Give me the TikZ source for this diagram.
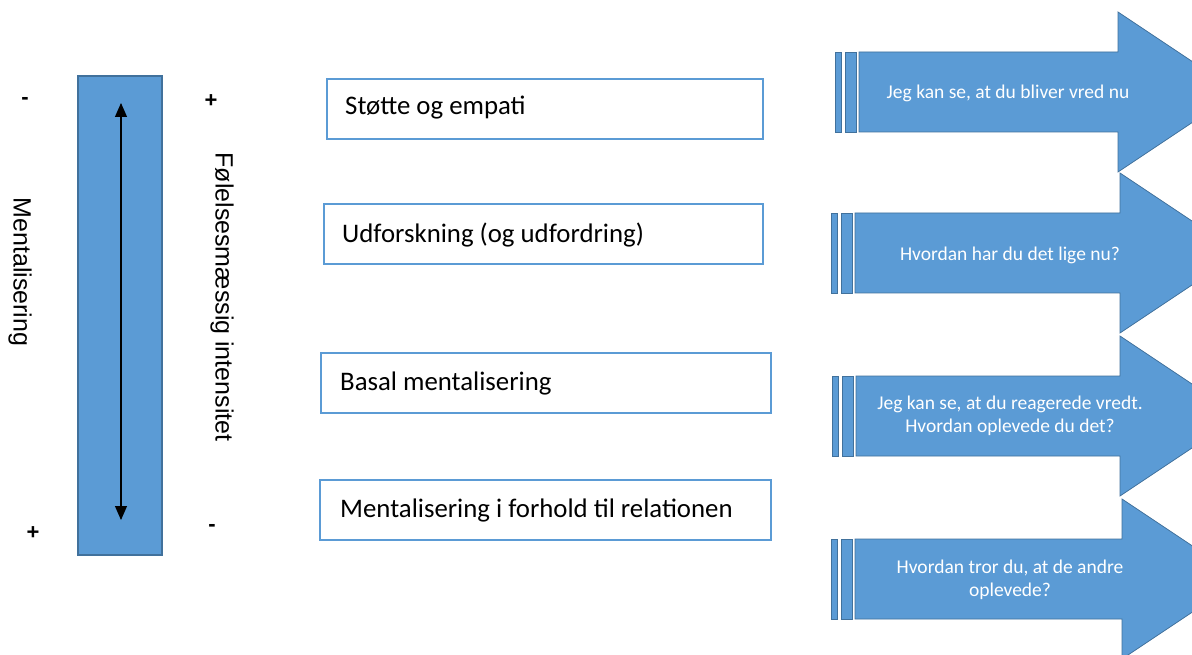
\documentclass[tikz,border=0pt]{standalone}
\usepackage{fontspec}
\setmainfont{Carlito}
\newfontfamily\arialfont{Liberation Sans}
\usetikzlibrary{arrows.meta}
\definecolor{fillblue}{HTML}{5B9BD5}
\definecolor{edgeblue}{HTML}{41719C}
\tikzset{
  x=1pt, y=-1pt,
  levelbox/.style={draw=fillblue, line width=2pt, fill=white},
  leveltext/.style={anchor=west, font=\fontsize{26.8}{32}\selectfont, inner sep=0pt},
  arrowshape/.style={fill=fillblue, draw=edgeblue, line width=0.8pt},
  arrowtext/.style={align=center, text=white, font=\fontsize{19.5}{23.5}\selectfont, inner sep=0pt},
  signtext/.style={font=\arialfont\bfseries\fontsize{22}{24}\selectfont, inner sep=0pt},
  sidetext/.style={font=\arialfont\fontsize{25}{28}\selectfont, inner sep=0pt, rotate=-90},
}
\newcommand{\qarrow}[5]{% #1 stripe x, #2 top, #3 bottom, #4 head x, #5 name
  \fill[arrowshape] (#1,#2) rectangle (#1+6,#3);
  \fill[arrowshape] (#1+10,#2) rectangle (#1+21,#3);
  \filldraw[arrowshape] (#1+24,#2) -- (#4,#2) -- (#4,#2-40) -- (#4+120,{(#2+#3)/2}) -- (#4,#3+40) -- (#4,#3) -- (#1+24,#3) -- cycle;
  \draw[edgeblue, line width=0.8pt] (#1,#2) rectangle (#1+6,#3) (#1+10,#2) rectangle (#1+21,#3);
  \coordinate (#5) at ({(#1+24+#4)/2+6},{(#2+#3)/2});
}
\begin{document}
\begin{tikzpicture}
\useasboundingbox (0,0) rectangle (1192,655);
\fill[white] (0,0) rectangle (1192,655);
\begin{scope}
\clip (0,0) rectangle (1192,655);
% left bar
\filldraw[fill=fillblue, draw=edgeblue, line width=1.2pt] (78,76) rectangle (162,555);
\coordinate (bartop) at (121,103);
\coordinate (barbot) at (121,520);
\draw[line width=1.1pt, {Triangle[width=12pt,length=14pt]}-{Triangle[width=12pt,length=14pt]}] (bartop) -- (barbot);
\node[signtext] (mtop) at (25,101) {-};
\node[signtext] (ptop) at (211,101) {+};
\node[signtext] (pbot) at (33,533) {+};
\node[signtext] (mbot) at (212,528) {-};
\node[sidetext] (ment) at (20,272) {Mentalisering};
\node[sidetext] (feel) at (222,297) {Følelsesmæssig intensitet};
% level boxes
\draw[levelbox] (327,79) rectangle (763,139);
\node[leveltext] (b1) at (345,108) {Støtte og empati};
\draw[levelbox] (324,204) rectangle (763,264);
\node[leveltext] (b2) at (342,235) {Udforskning (og udfordring)};
\draw[levelbox] (321,353) rectangle (771,413);
\node[leveltext] (b3) at (340,383) {Basal mentalisering};
\draw[levelbox] (320,480) rectangle (771,540);
\node[leveltext] (b4) at (340,510) {Mentalisering i forhold til relationen};
% arrows
\qarrow{835}{52}{132}{1118}{a1}
\qarrow{831}{213}{293}{1120}{a2}
\qarrow{832}{376}{456}{1120}{a3}
\qarrow{831}{539}{619}{1122}{a4}
\node[arrowtext] (t1) at (1008,93) {Jeg kan se, at du bliver vred nu};
\node[arrowtext] (t2) at (1010,255) {Hvordan har du det lige nu?};
\node[arrowtext] (t3) at (1010,416) {Jeg kan se, at du reagerede vredt.\\Hvordan oplevede du det?};
\node[arrowtext] (t4) at (1010,580) {Hvordan tror du, at de andre\\oplevede?};
\end{scope}
\end{tikzpicture}
\end{document}
